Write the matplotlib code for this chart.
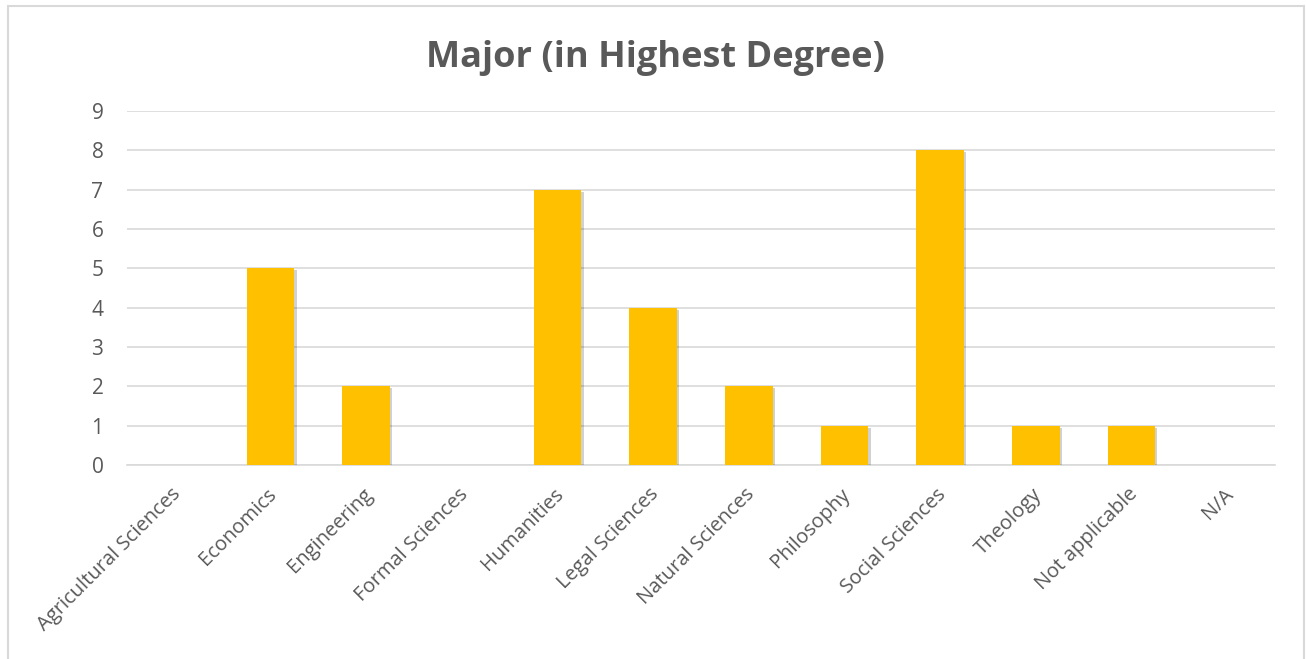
import matplotlib
matplotlib.use("Agg")
import matplotlib.pyplot as plt
import matplotlib.patheffects as pe
from matplotlib.patches import Rectangle
from matplotlib.transforms import ScaledTranslation

categories = ["Agricultural Sciences", "Economics", "Engineering", "Formal Sciences",
              "Humanities", "Legal Sciences", "Natural Sciences", "Philosophy",
              "Social Sciences", "Theology", "Not applicable", "N/A"]
values = [0, 5, 2, 0, 7, 4, 2, 1, 8, 1, 1, 0]
yticks = list(range(0, 10))
title = "Major (in Highest Degree)"

plt.rcParams['font.family'] = ['Open Sans', 'DejaVu Sans']
text_color = "#595959"
grid_color = "#D9D9D9"

fig = plt.figure(figsize=(13.06, 6.59), dpi=100)
fig.patch.set_facecolor("white")
fig.patches.append(Rectangle((8/1306, -0.05), (1304-8)/1306, 1 - 6/659 + 0.05,
                             transform=fig.transFigure, fill=False,
                             edgecolor=grid_color, linewidth=1.5))

ax = fig.add_axes([127/1306, 1 - 465/659, (1275-127)/1306, (465-111)/659])
x = list(range(len(categories)))
bars = ax.bar(x, values, width=0.5, color="#FFC000", zorder=3)
for b in bars:
    b.set_path_effects([pe.SimplePatchShadow(offset=(1.5, -1.5), shadow_rgbFace="#000000", alpha=0.18), pe.Normal()])

ax.set_xlim(-0.5, len(categories) - 0.5)
ax.set_ylim(0, 9)
ax.set_yticks(yticks)
ax.yaxis.grid(True, color=grid_color, linewidth=1.2, zorder=0)
ax.set_axisbelow(True)
for s in ["top", "right", "left"]:
    ax.spines[s].set_visible(False)
ax.spines["bottom"].set_color(grid_color)
ax.spines["bottom"].set_linewidth(1.2)
ax.tick_params(axis="both", length=0, colors=text_color, labelsize=14.5)
ax.tick_params(axis="y", pad=17, labelsize=15)
ax.tick_params(axis="x", pad=14)
ax.set_xticks(x)
ax.set_xticklabels(categories, rotation=45, ha="right", va="top", rotation_mode="anchor", color=text_color)
offset = ScaledTranslation(-4/100, 0, fig.dpi_scale_trans)
for lbl in ax.get_xticklabels():
    lbl.set_transform(lbl.get_transform() + offset)
for lbl in ax.get_yticklabels():
    lbl.set_color(text_color)

fig.text(655/1306, 1 - 67/659, title, ha="center", va="baseline", fontsize=26,
         fontweight="bold", color=text_color)

fig.savefig("out.png", dpi=100)
